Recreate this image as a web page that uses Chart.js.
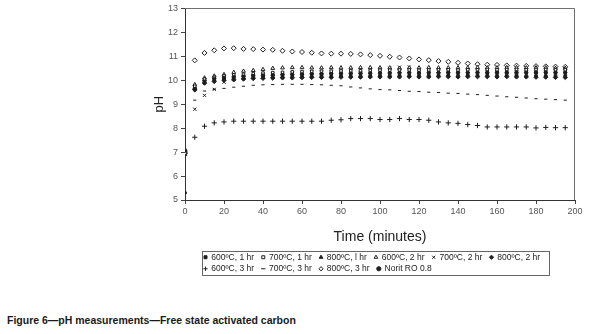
<!DOCTYPE html>
<html>
<head>
<meta charset="utf-8">
<script src="https://cdn.jsdelivr.net/npm/chart.js@4.4.1/dist/chart.umd.min.js"></script>
<style>
  html, body { margin: 0; padding: 0; background: #fff; }
  #wrap { position: relative; width: 597px; height: 300px; }
  #caption {
    position: absolute; left: 7px; top: 314px;
    font: bold 10.5px "Liberation Sans", Arial, sans-serif; color: #1a1a1a;
  }
</style>
</head>
<body>
<div id="wrap"><canvas id="phChart" width="597" height="300"></canvas></div>
<div id="caption">Figure 6—pH measurements—Free state activated carbon</div>
<script>
// --- Data ---
const minutes = [0, 5, 10, 15, 20, 25, 30, 35, 40, 45, 50, 55, 60, 65, 70, 75, 80, 85, 90, 95,
                 100, 105, 110, 115, 120, 125, 130, 135, 140, 145, 150, 155, 160, 165, 170, 175, 180, 185, 190, 195];

const labels = ['600ºC, 1 hr', '700ºC, 1 hr', '800ºC, l hr', '600ºC, 2 hr', '700ºC, 2 hr',
                '800ºC, 2 hr', '600ºC, 3 hr', '700ºC, 3 hr', '800ºC, 3 hr', 'Norit RO 0.8'];

const ph600_1 = [7.08, 9.65, 9.95, 10.05, 10.10, 10.13, 10.16, 10.18, 10.20, 10.21, 10.22, 10.23, 10.24, 10.25, 10.25, 10.26, 10.26, 10.27, 10.27, 10.28,
                 10.28, 10.28, 10.29, 10.29, 10.28, 10.29, 10.29, 10.30, 10.30, 10.29, 10.30, 10.30, 10.30, 10.31, 10.30, 10.31, 10.31, 10.30, 10.30, 10.30];
const ph700_1 = [6.95, 9.75, 10.05, 10.12, 10.18, 10.22, 10.25, 10.28, 10.30, 10.32, 10.33, 10.35, 10.36, 10.37, 10.38, 10.38, 10.39, 10.40, 10.40, 10.41,
                 10.42, 10.42, 10.43, 10.43, 10.42, 10.43, 10.44, 10.44, 10.43, 10.44, 10.44, 10.45, 10.44, 10.45, 10.45, 10.44, 10.45, 10.45, 10.44, 10.44];
const ph800_1 = [7.00, 9.70, 10.02, 10.10, 10.14, 10.18, 10.20, 10.22, 10.24, 10.25, 10.27, 10.28, 10.29, 10.30, 10.30, 10.31, 10.32, 10.32, 10.33, 10.33,
                 10.34, 10.34, 10.35, 10.35, 10.34, 10.35, 10.35, 10.36, 10.36, 10.35, 10.36, 10.36, 10.37, 10.36, 10.37, 10.37, 10.36, 10.37, 10.36, 10.36];
const ph600_2 = [6.90, 9.82, 10.10, 10.18, 10.24, 10.33, 10.38, 10.41, 10.45, 10.50, 10.52, 10.53, 10.53, 10.52, 10.52, 10.53, 10.52, 10.52, 10.53, 10.53,
                 10.52, 10.52, 10.50, 10.52, 10.52, 10.53, 10.52, 10.52, 10.52, 10.52, 10.53, 10.52, 10.52, 10.53, 10.53, 10.52, 10.52, 10.52, 10.50, 10.50];
const ph700_2 = [6.95, 8.79, 9.37, 9.62, 9.92, 10.05, 10.12, 10.18, 10.22, 10.25, 10.28, 10.30, 10.33, 10.35, 10.35, 10.37, 10.38, 10.40, 10.42, 10.45,
                 10.48, 10.50, 10.55, 10.55, 10.45, 10.42, 10.40, 10.40, 10.38, 10.38, 10.37, 10.36, 10.36, 10.35, 10.35, 10.34, 10.34, 10.33, 10.32, 10.32];
const ph800_2 = [7.00, 9.60, 9.88, 9.95, 10.00, 10.02, 10.05, 10.07, 10.08, 10.09, 10.10, 10.10, 10.11, 10.12, 10.12, 10.12, 10.13, 10.13, 10.13, 10.14,
                 10.14, 10.14, 10.14, 10.15, 10.14, 10.14, 10.15, 10.15, 10.14, 10.15, 10.15, 10.15, 10.14, 10.15, 10.14, 10.14, 10.13, 10.13, 10.12, 10.12];
const ph600_3 = [7.05, 7.62, 8.08, 8.22, 8.26, 8.29, 8.29, 8.29, 8.29, 8.29, 8.29, 8.29, 8.29, 8.29, 8.29, 8.33, 8.35, 8.40, 8.40, 8.40,
                 8.36, 8.36, 8.40, 8.36, 8.36, 8.33, 8.26, 8.22, 8.20, 8.15, 8.11, 8.05, 8.05, 8.05, 8.05, 8.05, 8.01, 8.03, 8.02, 8.02];
const ph700_3 = [7.00, 9.17, 9.55, 9.62, 9.66, 9.71, 9.75, 9.79, 9.81, 9.82, 9.83, 9.83, 9.83, 9.82, 9.81, 9.79, 9.77, 9.72, 9.68, 9.64,
                 9.61, 9.60, 9.57, 9.54, 9.53, 9.50, 9.49, 9.46, 9.45, 9.42, 9.40, 9.37, 9.34, 9.31, 9.29, 9.26, 9.23, 9.21, 9.19, 9.17];
const ph800_3 = [6.95, 10.83, 11.14, 11.25, 11.33, 11.34, 11.31, 11.30, 11.28, 11.27, 11.23, 11.20, 11.18, 11.15, 11.12, 11.11, 11.11, 11.10, 11.08, 11.05,
                 11.02, 10.98, 10.95, 10.91, 10.87, 10.84, 10.80, 10.77, 10.73, 10.70, 10.67, 10.65, 10.64, 10.62, 10.61, 10.60, 10.59, 10.58, 10.57, 10.56];
const phNorit = [5.30, 9.62, 9.90, 9.98, 10.03, 10.06, 10.08, 10.10, 10.11, 10.12, 10.13, 10.14, 10.15, 10.15, 10.16, 10.16, 10.17, 10.17, 10.17, 10.18,
                 10.18, 10.18, 10.19, 10.19, 10.18, 10.19, 10.19, 10.20, 10.19, 10.20, 10.20, 10.20, 10.19, 10.20, 10.20, 10.19, 10.19, 10.18, 10.18, 10.18];

const seriesValues = [ph600_1, ph700_1, ph800_1, ph600_2, ph700_2, ph800_2, ph600_3, ph700_3, ph800_3, phNorit];

const xTicks = [0, 20, 40, 60, 80, 100, 120, 140, 160, 180, 200];
const yTicks = [5, 6, 7, 8, 9, 10, 11, 12, 13];

// --- Marker styles ---
const ink = '#1e1e1e';
const markers = [
  { style: 'rect',     fill: ink,    r: 1.8 },
  { style: 'rect',     fill: '#fff', r: 1.8 },
  { style: 'triangle', fill: ink,    r: 2.2 },
  { style: 'triangle', fill: '#fff', r: 2.2 },
  { style: 'crossRot', fill: ink,    r: 2.2 },
  { style: 'rectRot',  fill: ink,    r: 2.2 },
  { style: 'cross',    fill: ink,    r: 2.6 },
  { style: 'line',     fill: ink,    r: 1.6 },
  { style: 'rectRot',  fill: '#fff', r: 2.5 },
  { style: 'circle',   fill: ink,    r: 1.5 }
];

const datasets = labels.map((label, i) => ({
  label: label,
  data: minutes.map((t, j) => ({ x: t, y: seriesValues[i][j] })),
  showLine: false,
  pointStyle: markers[i].style,
  pointRadius: markers[i].r,
  pointBackgroundColor: markers[i].fill,
  pointBorderColor: ink,
  pointBorderWidth: 1,
  backgroundColor: markers[i].fill,
  borderColor: ink
}));

// frame on top and right of the plot area
const plotFrame = {
  id: 'plotFrame',
  beforeDatasetsDraw(chart) {
    const { ctx, chartArea: a } = chart;
    ctx.save();
    ctx.strokeStyle = '#6e6e6e';
    ctx.lineWidth = 1;
    ctx.beginPath();
    ctx.moveTo(a.left, Math.round(a.top) + 0.5);
    ctx.lineTo(Math.round(a.right) - 0.5, Math.round(a.top) + 0.5);
    ctx.lineTo(Math.round(a.right) - 0.5, a.bottom);
    ctx.stroke();
    ctx.restore();
  }
};

// nudge the legend in from the axis and put a box round it
const legendBox = {
  id: 'legendBox',
  afterLayout(chart) {
    chart.legend.left += 16;
  },
  afterDraw(chart) {
    const lg = chart.legend;
    const ctx = chart.ctx;
    const rows = lg.lineWidths.length;
    const w = Math.max(...lg.lineWidths);
    ctx.save();
    ctx.strokeStyle = '#666';
    ctx.lineWidth = 1;
    ctx.strokeRect(Math.round(lg.left) + 1.5, Math.round(lg.top) + 1.5, Math.round(w) + 3, rows * 11.5 + 1);
    ctx.restore();
  }
};

const ctx = document.getElementById('phChart').getContext('2d');
new Chart(ctx, {
  type: 'scatter',
  data: { datasets: datasets },
  plugins: [plotFrame, legendBox],
  options: {
    responsive: false,
    animation: false,
    events: [],
    layout: { padding: { left: 150, right: 22, top: 7, bottom: 17 } },
    font: { family: '"Liberation Sans", Arial, sans-serif' },
    scales: {
      x: {
        type: 'linear',
        min: 0,
        max: 200,
        afterBuildTicks: (scale) => { scale.ticks = xTicks.map(v => ({ value: v })); },
        afterFit: (scale) => { scale.height = 50; },
        grid: { drawOnChartArea: false, drawTicks: true, tickLength: 4, color: '#444' },
        border: { color: '#333', width: 1 },
        ticks: { font: { size: 9 }, color: '#555', padding: 2, maxRotation: 0 },
        title: { display: true, text: 'Time (minutes)', font: { size: 14 }, color: '#222', padding: { top: 8 } }
      },
      y: {
        type: 'linear',
        min: 5,
        max: 13,
        afterBuildTicks: (scale) => { scale.ticks = yTicks.map(v => ({ value: v })); },
        afterFit: (scale) => { scale.width = 35; },
        grid: { drawOnChartArea: false, drawTicks: true, tickLength: 4, color: '#444' },
        border: { color: '#333', width: 1 },
        ticks: { font: { size: 9 }, color: '#555', padding: 3 },
        title: { display: true, text: 'pH', font: { size: 13 }, color: '#222', padding: 2 }
      }
    },
    plugins: {
      legend: {
        position: 'bottom',
        align: 'start',
        fullSize: false,
        labels: {
          usePointStyle: true,
          boxWidth: 3,
          boxHeight: 3,
          padding: 3,
          color: '#222',
          font: { size: 8.5 },
          generateLabels: (chart) => Chart.defaults.plugins.legend.labels.generateLabels(chart)
            .map(item => Object.assign(item, { text: item.text + '  ' }))
        }
      },
      tooltip: { enabled: false }
    }
  }
});
</script>
</body>
</html>
